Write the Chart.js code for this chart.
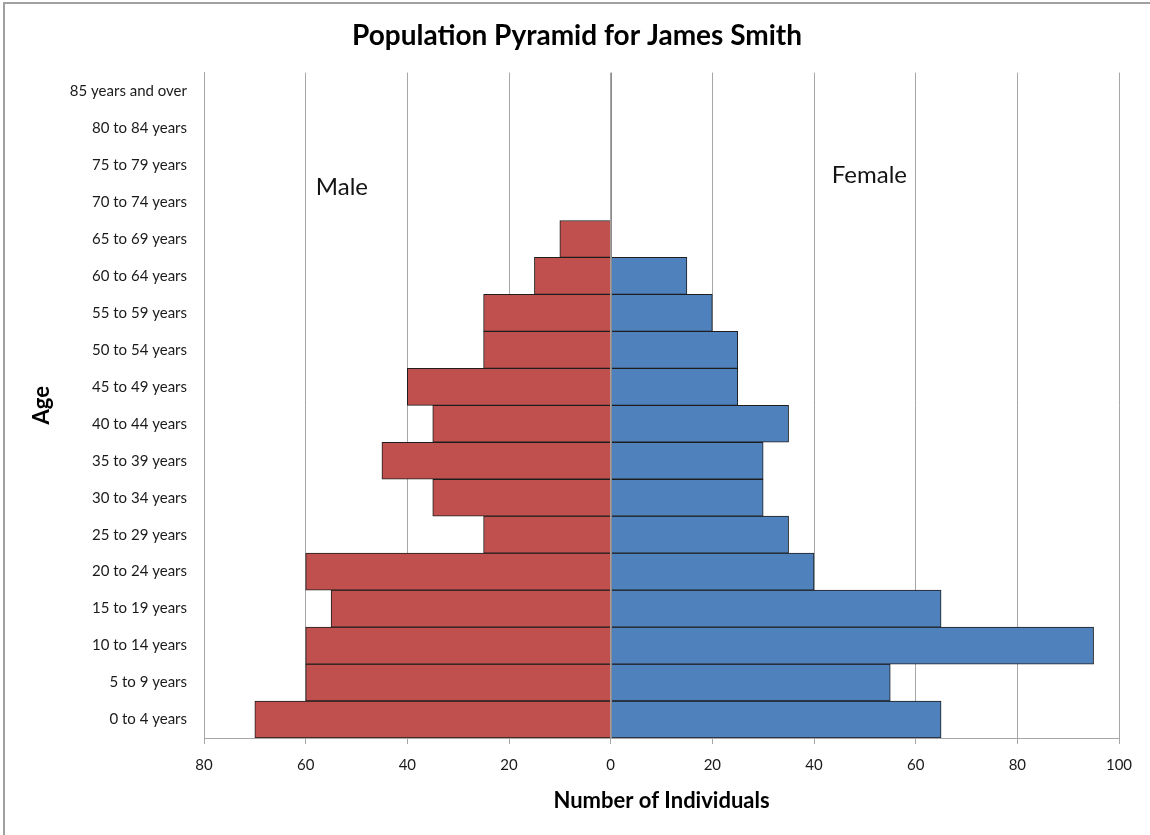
<!DOCTYPE html>
<html>
<head>
<meta charset="utf-8">
<title>Population Pyramid for James Smith</title>
<script src="https://cdn.jsdelivr.net/npm/chart.js@4.4.1/dist/chart.umd.min.js"></script>
<style>
  html, body { margin: 0; padding: 0; background: #ffffff; }
  canvas { display: block; }
</style>
</head>
<body>
<canvas id="pyramid" width="1150" height="835"></canvas>
<script>
// Age groups, youngest first (drawn bottom to top)
const ageGroups = [
  '0 to 4 years', '5 to 9 years', '10 to 14 years', '15 to 19 years',
  '20 to 24 years', '25 to 29 years', '30 to 34 years', '35 to 39 years',
  '40 to 44 years', '45 to 49 years', '50 to 54 years', '55 to 59 years',
  '60 to 64 years', '65 to 69 years', '70 to 74 years', '75 to 79 years',
  '80 to 84 years', '85 years and over'
];

// Number of individuals in each age group
const maleCounts   = [70, 60, 60, 55, 60, 25, 35, 45, 35, 40, 25, 25, 15, 10, 0, 0, 0, 0];
const femaleCounts = [65, 55, 95, 65, 40, 35, 30, 30, 35, 25, 25, 20, 15, 0, 0, 0, 0, 0];

// Axis range and tick spacing for the count axis
const countMin = -80;
const countMax = 100;
const countStep = 20;

// Side captions placed in data coordinates: [count value, age-group position]
const sideCaptions = [
  { text: 'Male',   at: [-58, 14.4] },
  { text: 'Female', at: [43.5, 14.73] }
];

const FONT = "Lato, 'Open Sans', 'DejaVu Sans', sans-serif";
const GRID = '#a6a6a6';

// White page with the chart frame on its top and left edges
const framePlugin = {
  id: 'frame',
  beforeDraw(chart) {
    const { ctx, width, height } = chart;
    ctx.save();
    ctx.fillStyle = '#ffffff';
    ctx.fillRect(0, 0, width, height);
    ctx.strokeStyle = '#a0a0a0';
    ctx.lineWidth = 2;
    ctx.beginPath();
    ctx.moveTo(4, height + 2);
    ctx.lineTo(4, 3);
    ctx.lineTo(width + 2, 3);
    ctx.stroke();
    ctx.restore();
  }
};

// Zero line drawn over the bars, plus the Male / Female captions
const overlayPlugin = {
  id: 'overlay',
  afterDatasetsDraw(chart) {
    const { ctx, chartArea, scales } = chart;
    const x0 = Math.round(scales.x.getPixelForValue(0)) + 0.5;
    ctx.save();
    ctx.strokeStyle = '#8c8c8c';
    ctx.lineWidth = 1;
    ctx.beginPath();
    ctx.moveTo(x0, chartArea.top);
    ctx.lineTo(x0, chartArea.bottom);
    ctx.stroke();

    ctx.fillStyle = '#141414';
    ctx.font = "24px " + FONT;
    ctx.textAlign = 'left';
    ctx.textBaseline = 'middle';
    sideCaptions.forEach(c => {
      ctx.fillText(c.text, scales.x.getPixelForValue(c.at[0]), scales.y.getPixelForValue(c.at[1]));
    });
    ctx.restore();
  }
};

new Chart(document.getElementById('pyramid'), {
  type: 'bar',
  data: {
    labels: ageGroups,
    datasets: [
      {
        label: 'Male',
        data: maleCounts.map(v => -v),
        backgroundColor: '#C0504D',
        borderColor: '#1e1e1e',
        borderWidth: 1,
        borderSkipped: 'start'
      },
      {
        label: 'Female',
        data: femaleCounts,
        backgroundColor: '#4F81BD',
        borderColor: '#1e1e1e',
        borderWidth: 1,
        borderSkipped: 'start'
      }
    ]
  },
  options: {
    indexAxis: 'y',
    responsive: false,
    animation: false,
    devicePixelRatio: 1,
    barPercentage: 1,
    categoryPercentage: 1,
    layout: { padding: { top: 19, left: 4, right: 0, bottom: 0 } },
    plugins: {
      legend: { display: false },
      tooltip: { enabled: false },
      title: {
        display: true,
        text: 'Population Pyramid for James Smith',
        color: '#000000',
        font: { family: FONT, size: 28, weight: 'bold', lineHeight: 1.2 },
        padding: { top: 0, bottom: 20 }
      }
    },
    scales: {
      x: {
        stacked: true,
        min: countMin,
        max: countMax,
        afterFit(scale) {
          scale.height = 97;
          scale.paddingRight = 31;
        },
        ticks: {
          stepSize: countStep,
          padding: 12,
          color: '#1a1a1a',
          font: { family: FONT, size: 15 },
          callback: v => Math.abs(v)
        },
        grid: {
          color: GRID,
          lineWidth: 1,
          drawTicks: true,
          tickLength: 6
        },
        border: { display: true, color: GRID, width: 1 },
        title: {
          display: true,
          text: 'Number of Individuals',
          color: '#000000',
          font: { family: FONT, size: 22, weight: 'bold', lineHeight: 1.2 },
          padding: { top: 0, bottom: 21 }
        }
      },
      y: {
        stacked: true,
        reverse: true,
        afterFit(scale) { scale.width = 200; },
        ticks: {
          autoSkip: false,
          padding: 9,
          color: '#1a1a1a',
          font: { family: FONT, size: 15 }
        },
        grid: { display: false },
        border: { display: true, color: GRID, width: 1 },
        title: {
          display: true,
          text: 'Age',
          color: '#000000',
          font: { family: FONT, size: 22, weight: 'bold', lineHeight: 1.2 },
          padding: { top: 25, bottom: 0 }
        }
      }
    }
  },
  plugins: [framePlugin, overlayPlugin]
});
</script>
</body>
</html>
